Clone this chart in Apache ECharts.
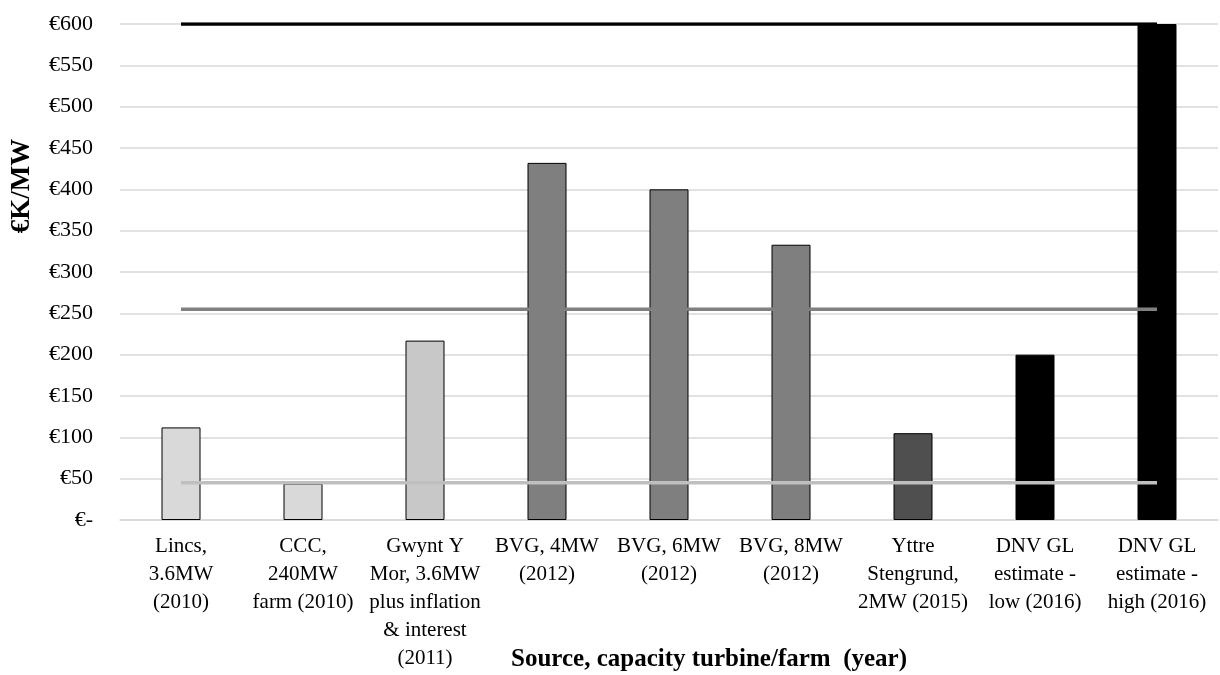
<!DOCTYPE html>
<html><head><meta charset="utf-8">
<script src="https://cdn.jsdelivr.net/npm/echarts@6/dist/echarts.min.js"></script>
<style>html,body{margin:0;padding:0;background:#fff}#c{width:1220px;height:675px}</style>
</head><body><div id="c"></div>
<script>
const categories = [
  "Lincs,\n3.6MW\n(2010)",
  "CCC,\n240MW\nfarm (2010)",
  "Gwynt Y\nMor, 3.6MW\nplus inflation\n& interest\n(2011)",
  "BVG, 4MW\n(2012)",
  "BVG, 6MW\n(2012)",
  "BVG, 8MW\n(2012)",
  "Yttre\nStengrund,\n2MW (2015)",
  "DNV GL\nestimate -\nlow (2016)",
  "DNV GL\nestimate -\nhigh (2016)"
];
const costValues = [112, 44, 217, 432, 400, 333, 105, 200, 600];
const highLine = [600, 600, 600, 600, 600, 600, 600, 600, 600];
const midLine = [255, 255, 255, 255, 255, 255, 255, 255, 255];
const lowLine = [45, 45, 45, 45, 45, 45, 45, 45, 45];
const barColors = ['#d9d9d9','#d9d9d9','#c8c8c8','#7f7f7f','#7f7f7f','#7f7f7f','#4f4f4f','#000000','#000000'];
const yMin = 0, yMax = 600, yStep = 50;
const xTitle = 'Source, capacity turbine/farm  (year)';
const yTitle = '€K/MW';

const font = 'Liberation Serif';
const chart = echarts.init(document.getElementById('c'));
chart.setOption({
  animation: false,
  textStyle: {fontFamily: font},
  grid: {left: 120, right: 2, top: 24, bottom: 155, outerBoundsMode: 'none', containLabel: false},
  xAxis: {
    type: 'category',
    data: categories,
    axisLine: {lineStyle: {color: '#d9d9d9', width: 1.5}},
    axisTick: {show: false},
    axisLabel: {interval: 0, color: '#000', fontFamily: font, fontSize: 21, lineHeight: 28, margin: 12}
  },
  yAxis: {
    type: 'value',
    min: yMin, max: yMax, interval: yStep,
    axisLine: {show: false},
    axisTick: {show: false},
    splitLine: {lineStyle: {color: '#d9d9d9', width: 1.5}},
    axisLabel: {color: '#000', fontFamily: font, fontSize: 22, margin: 27,
      formatter: v => v === 0 ? '€-' : '€' + v}
  },
  graphic: [{
    type: 'text', x: 22, y: 186, rotation: Math.PI / 2,
    style: {text: yTitle, fontFamily: font, fontWeight: 'bold', fontSize: 27, fill: '#000',
      align: 'center', verticalAlign: 'middle'}
  }, {
    type: 'text', x: 709, y: 660,
    style: {text: xTitle, fontFamily: font, fontWeight: 'bold', fontSize: 25, fill: '#000',
      align: 'center', verticalAlign: 'middle'}
  }],
  series: [
    {
      type: 'bar',
      data: costValues.map((v, i) => ({value: v, itemStyle: {color: barColors[i]}})),
      barWidth: 39,
      itemStyle: {borderColor: '#000', borderWidth: 1},
      z: 2
    },
    {type: 'line', data: lowLine, symbol: 'none', lineStyle: {color: '#bfbfbf', width: 3.5}, z: 3},
    {type: 'line', data: midLine, symbol: 'none', lineStyle: {color: '#808080', width: 3.5}, z: 3},
    {type: 'line', data: highLine, symbol: 'none', lineStyle: {color: '#000000', width: 3.5}, z: 3}
  ]
});
</script></body></html>
